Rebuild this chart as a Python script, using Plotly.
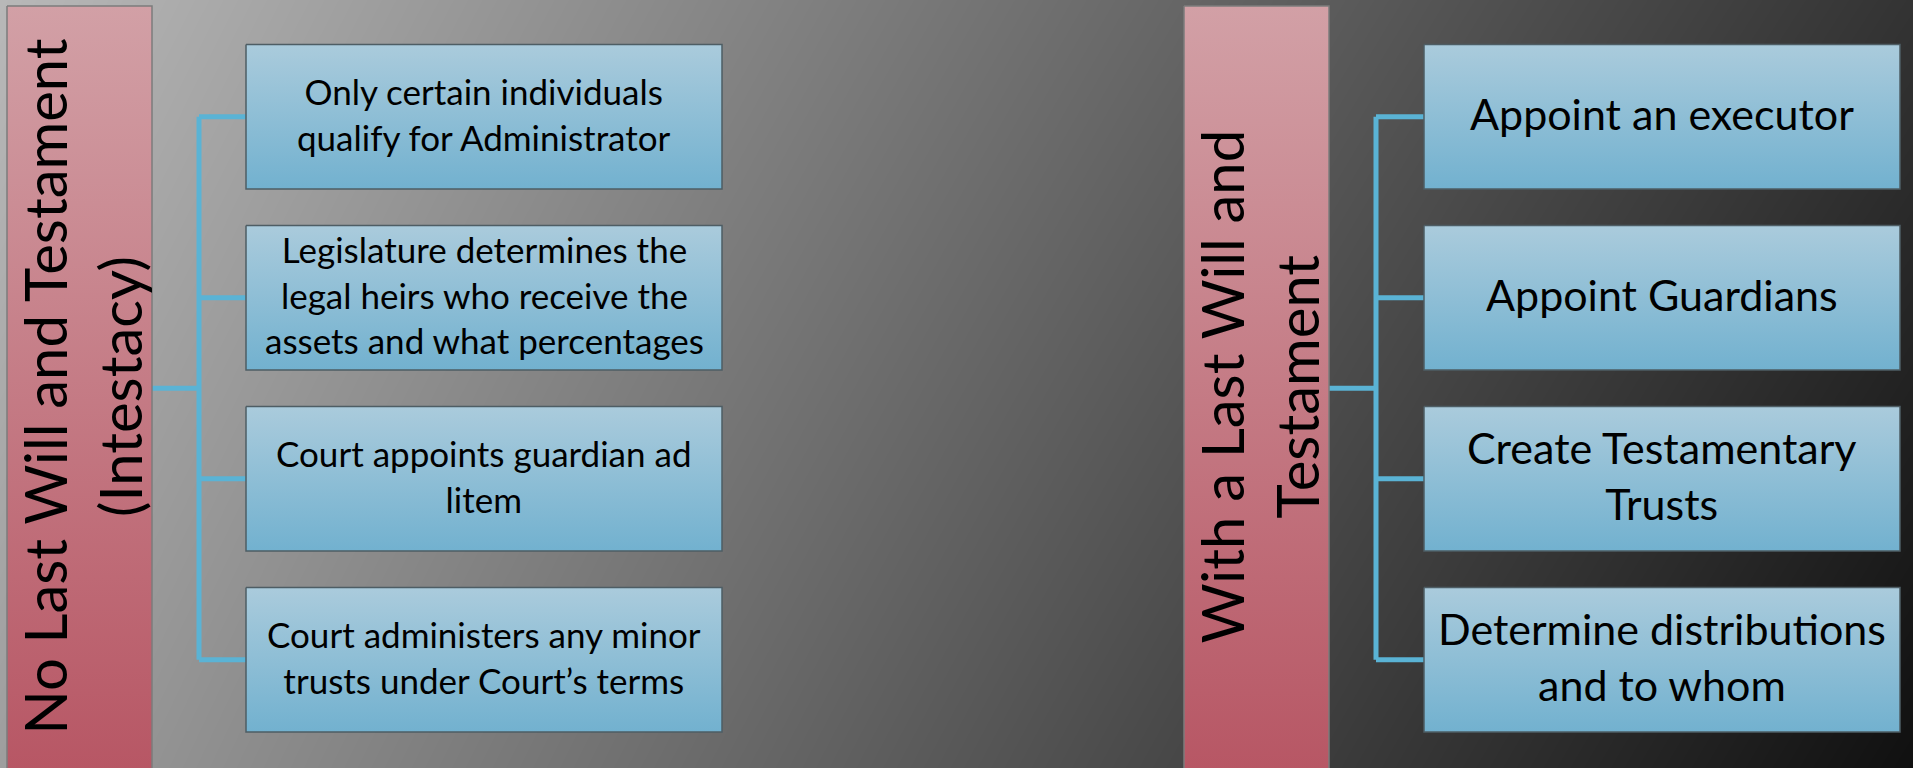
import plotly.graph_objects as go

W, H = 1913, 768

# ---- content ----
left_title = "No Last Will and Testament<br>(Intestacy)"
left_items = [
    "Only certain individuals<br>qualify for Administrator",
    "Legislature determines the<br>legal heirs who receive the<br>assets and what percentages",
    "Court appoints guardian ad<br>litem",
    "Court administers any minor<br>trusts under Court’s terms",
]
right_title = "With a Last Will and<br>Testament"
right_items = [
    "Appoint an executor",
    "Appoint Guardians",
    "Create Testamentary<br>Trusts",
    "Determine distributions<br>and to whom",
]

# ---- styles / geometry (pixels) ----
FONT = "Lato, 'Open Sans', sans-serif"
PINK_TOP, PINK_BOTTOM = "#d2a0a6", "#b75664"
BLUE_TOP, BLUE_BOTTOM = "#aacbdc", "#72b1cf"
LINK = "#5ab3d5"
BOX_EDGE = "#4e5d64"
ROOT_EDGE = "#7c7c7c"

groups = [
    dict(title=left_title, items=left_items, rx0=7, rx1=152, trunk=199,
         bx0=246, bx1=722, item_font=35),
    dict(title=right_title, items=right_items, rx0=1184, rx1=1329, trunk=1376,
         bx0=1424, bx1=1900, item_font=43),
]
ROOT_TOP, ROOT_BOTTOM = 6, 775
ITEM_TOP, ITEM_H, ITEM_PITCH = 44.5, 144.5, 181
TITLE_FONT = 58

fig = go.Figure()

# background diagonal gradient (bilinear between corner greys)
fig.add_trace(go.Heatmap(
    x=[0, W], y=[0, H],
    z=[[184, 51], [158, 16]],
    zmin=0, zmax=255, zsmooth="best",
    colorscale=[[0, "#000000"], [1, "#ffffff"]],
    showscale=False, hoverinfo="skip",
))

def box(x0, x1, y0, y1, top, bottom, edge, ew):
    fig.add_trace(go.Scatter(
        x=[x0, x1, x1, x0, x0], y=[y0, y0, y1, y1, y0],
        mode="lines", fill="toself",
        fillgradient=dict(type="vertical", start=y0, stop=y1,
                          colorscale=[[0, top], [1, bottom]]),
        line=dict(color=edge, width=ew),
        hoverinfo="skip", showlegend=False,
    ))

annotations = []
for g in groups:
    n = len(g["items"])
    centers = [ITEM_TOP + i * ITEM_PITCH + ITEM_H / 2 for i in range(n)]
    mid = (centers[0] + centers[-1]) / 2
    # connectors
    xs = [g["rx1"], g["trunk"], None, g["trunk"], g["trunk"], None]
    ys = [mid, mid, None, centers[0], centers[-1], None]
    for c in centers:
        xs += [g["trunk"], g["bx0"], None]
        ys += [c, c, None]
    fig.add_trace(go.Scatter(x=xs, y=ys, mode="lines",
                             line=dict(color=LINK, width=5),
                             hoverinfo="skip", showlegend=False))
    # root box
    box(g["rx0"], g["rx1"], ROOT_TOP, ROOT_BOTTOM, PINK_TOP, PINK_BOTTOM, ROOT_EDGE, 1.5)
    annotations.append(dict(
        x=(g["rx0"] + g["rx1"]) / 2 + 2, y=(ROOT_TOP + H) / 2,
        xref="x", yref="y", text=g["title"], textangle=-90, showarrow=False,
        font=dict(family=FONT, size=TITLE_FONT, color="#000000"), align="center",
    ))
    # item boxes
    for i, label in enumerate(g["items"]):
        y0 = ITEM_TOP + i * ITEM_PITCH
        box(g["bx0"], g["bx1"], y0, y0 + ITEM_H, BLUE_TOP, BLUE_BOTTOM, BOX_EDGE, 1.5)
        annotations.append(dict(
            x=(g["bx0"] + g["bx1"]) / 2, y=y0 + ITEM_H / 2 - 3,
            xref="x", yref="y", text=label, showarrow=False,
            font=dict(family=FONT, size=g["item_font"], color="#000000"), align="center",
        ))

fig.update_layout(
    width=W, height=H, margin=dict(l=0, r=0, t=0, b=0, pad=0),
    paper_bgcolor="#808080", plot_bgcolor="#808080",
    showlegend=False, annotations=annotations,
    xaxis=dict(range=[0, W], visible=False, fixedrange=True),
    yaxis=dict(range=[H, 0], visible=False, fixedrange=True),
)

fig.write_html("out.html", config={"displayModeBar": False},
               post_script="document.body.style.margin='0';document.body.style.overflow='hidden';")
